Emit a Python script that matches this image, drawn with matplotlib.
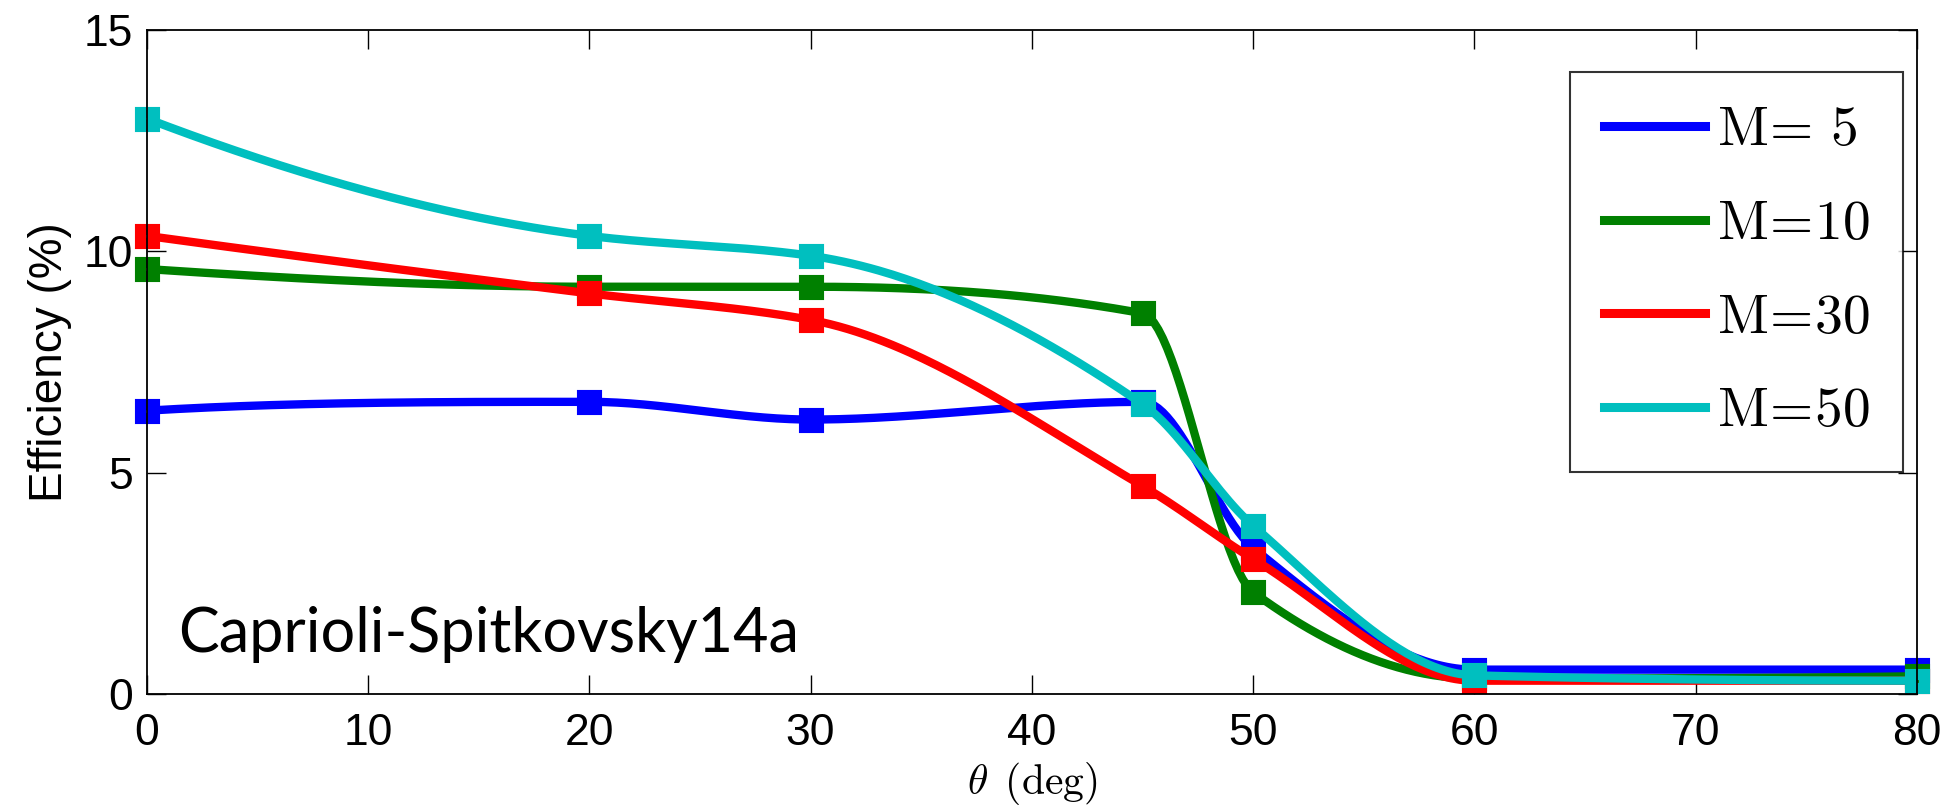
import numpy as np
import matplotlib
matplotlib.use("Agg")
import matplotlib.pyplot as plt
from matplotlib.lines import Line2D

# ---- data ----
theta = [0, 20, 30, 45, 50, 60, 80]
eff_m5 = [6.4, 6.6, 6.2, 6.6, 3.3, 0.55, 0.55]
eff_m10 = [9.6, 9.2, 9.2, 8.6, 2.3, 0.35, 0.4]
eff_m30 = [10.35, 9.05, 8.45, 4.7, 3.05, 0.3, 0.3]
eff_m50 = [13.0, 10.35, 9.9, 6.55, 3.8, 0.42, 0.3]
labels = [r"$\mathrm{M}\!=\!\ \mathrm{5}$", r"$\mathrm{M}\!=\!\mathrm{10}$",
          r"$\mathrm{M}\!=\!\mathrm{30}$", r"$\mathrm{M}\!=\!\mathrm{50}$"]
colors = ["#0000ff", "#008000", "#ff0000", "#00bfbf"]
xticks = [0, 10, 20, 30, 40, 50, 60, 70, 80]
yticks = [0, 5, 10, 15]


def pchip_curve(x, y, num=400):
    """Shape-preserving piecewise cubic Hermite curve for drawing the line."""
    x = np.asarray(x, float)
    y = np.asarray(y, float)
    n = len(x)
    h = np.diff(x)
    delta = np.diff(y) / h
    d = np.zeros(n)
    for k in range(1, n - 1):
        if delta[k - 1] * delta[k] > 0:
            w1 = 2 * h[k] + h[k - 1]
            w2 = h[k] + 2 * h[k - 1]
            d[k] = (w1 + w2) / (w1 / delta[k - 1] + w2 / delta[k])

    def end_slope(h0, h1, del0, del1):
        dd = ((2 * h0 + h1) * del0 - h0 * del1) / (h0 + h1)
        if np.sign(dd) != np.sign(del0):
            dd = 0.0
        elif np.sign(del0) != np.sign(del1) and abs(dd) > abs(3 * del0):
            dd = 3 * del0
        return dd

    d[0] = end_slope(h[0], h[1], delta[0], delta[1])
    d[-1] = end_slope(h[-1], h[-2], delta[-1], delta[-2])
    xs = np.linspace(x[0], x[-1], num)
    ys = np.empty_like(xs)
    idx = np.clip(np.searchsorted(x, xs, side="right") - 1, 0, n - 2)
    for i, xv in enumerate(xs):
        k = idx[i]
        t = (xv - x[k]) / h[k]
        h00 = 2 * t**3 - 3 * t**2 + 1
        h10 = t**3 - 2 * t**2 + t
        h01 = -2 * t**3 + 3 * t**2
        h11 = t**3 - t**2
        ys[i] = h00 * y[k] + h10 * h[k] * d[k] + h01 * y[k + 1] + h11 * h[k] * d[k + 1]
    return xs, ys


plt.rcParams["mathtext.fontset"] = "cm"
plt.rcParams["font.family"] = ["Liberation Sans", "DejaVu Sans"]

fig = plt.figure(figsize=(19.46, 8.11), dpi=100)
ax = fig.add_axes([0.0754, 0.1443, 0.9097, 0.8187])

series = [eff_m5, eff_m10, eff_m30, eff_m50]
handles = []
for vals, col, lab in zip(series, colors, labels):
    xs, ys = pchip_curve(theta, vals)
    ax.plot(xs, ys, color=col, lw=6, solid_capstyle="butt", clip_on=False)
    ax.plot(theta, vals, linestyle="none", marker="s", markersize=10,
            markerfacecolor="none", markeredgecolor=col, markeredgewidth=8,
            clip_on=False)
    handles.append(Line2D([0], [0], color=col, lw=6.5, label=lab))

ax.set_xlim(0, 80)
ax.set_ylim(0, 15)
ax.set_xticks(xticks)
ax.set_yticks(yticks)
ax.tick_params(direction="in", length=14, width=1.0, top=True, right=True,
               labelsize=32)
ax.tick_params(axis="x", pad=14)
ax.tick_params(axis="y", pad=10)
for sp in ax.spines.values():
    sp.set_linewidth(1.3)

ax.set_xlabel(r"$\theta\ \,(\mathrm{deg})$", fontsize=30, labelpad=4)
ax.set_ylabel("Efficiency (%)", fontsize=33, labelpad=8)

ax.text(1.4, 0.95, "Caprioli-Spitkovsky14a", fontsize=44, family="Lato",
        ha="left", va="baseline")

leg = ax.legend(handles=handles, loc="upper right", bbox_to_anchor=(0.9921, 0.9367),
                fontsize=40, frameon=True, fancybox=False, edgecolor="black",
                handlelength=1.82, handletextpad=0.22, labelspacing=0.75,
                borderpad=0.6, borderaxespad=0)
leg.get_frame().set_linewidth(1.5)

fig.savefig("out.png", dpi=100)
